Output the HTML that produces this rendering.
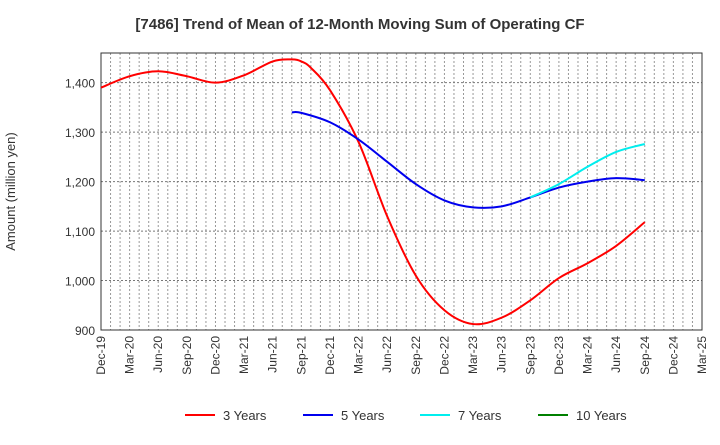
<!DOCTYPE html>
<html><head><meta charset="utf-8"><style>
body{margin:0;background:#fff;font-family:"Liberation Sans",sans-serif}
</style></head><body>
<svg id="c" width="720" height="440" xmlns="http://www.w3.org/2000/svg">
<text x="360" y="29" text-anchor="middle" font-size="15" font-weight="bold" fill="#333">[7486]  Trend of Mean of 12-Month Moving Sum of Operating CF</text>
<g id="grid"></g><g id="axes"></g><g id="series"></g><g id="legend"></g>
</svg>
<script>
const xLabels=["Dec-19","Mar-20","Jun-20","Sep-20","Dec-20","Mar-21","Jun-21","Sep-21","Dec-21","Mar-22","Jun-22","Sep-22","Dec-22","Mar-23","Jun-23","Sep-23","Dec-23","Mar-24","Jun-24","Sep-24","Dec-24","Mar-25"];
const yTicks=[900,1000,1100,1200,1300,1400];
const m3=[0,3,6,9,12,15,18,20,21,22,24,27,30,33,36,39,42,45,48,51,54,57];
const v3=[1390,1413,1423,1413,1400,1415,1443,1447,1443,1430,1385,1280,1130,1010,940,912,925,960,1005,1035,1070,1118];
const m5=[20,21,24,27,30,33,36,39,42,45,48,51,54,57];
const v5=[1340,1339,1320,1285,1240,1195,1162,1148,1150,1168,1188,1200,1207,1203];
const m7=[45,48,51,54,57];
const v7=[1168,1195,1230,1260,1276];
const L=101,R=702,T=53,B=330;
const NS="http://www.w3.org/2000/svg";
const xs=m=>L+(R-L)*m/63;
const ys=v=>B-(v-900)/(1460-900)*(B-T);
function mk(t,a,p){const e=document.createElementNS(NS,t);for(const k in a)e.setAttribute(k,a[k]);document.getElementById(p).appendChild(e);return e;}
for(let m=1;m<63;m++){const e=mk('line',{x1:xs(m),x2:xs(m),y1:T,y2:B,stroke:'#999','stroke-dasharray':'2,2','stroke-width':1},'grid');

}
yTicks.forEach(v=>{const g=mk('line',{x1:L,x2:R,y1:ys(v),y2:ys(v),stroke:'#777','stroke-dasharray':'2,2'},'grid');


const t=mk('text',{x:L-6,y:ys(v)+5,'text-anchor':'end','font-size':12,fill:'#333'},'axes');t.textContent=v.toLocaleString('en-US');

});
xLabels.forEach((s,i)=>{const x=xs(i*3);const t=mk('text',{transform:`translate(${x+4},${B+6}) rotate(-90)`,'text-anchor':'end','font-size':12,fill:'#333'},'axes');t.textContent=s;

});
const fr=mk('rect',{x:L,y:T,width:R-L,height:B-T,fill:'none',stroke:'#333'},'axes');


const yt=mk('text',{transform:`translate(15,${(T+B)/2}) rotate(-90)`,'text-anchor':'middle','font-size':13,fill:'#333'},'axes');yt.textContent='Amount (million yen)';


function path(ms,vs){const p=ms.map((m,i)=>[xs(m),ys(vs[i])]);let d=`M${p[0][0]},${p[0][1]}`;
for(let i=0;i<p.length-1;i++){const p0=p[i-1]||p[i],p1=p[i],p2=p[i+1],p3=p[i+2]||p2;
d+=`C${p1[0]+(p2[0]-p0[0])/6},${p1[1]+(p2[1]-p0[1])/6} ${p2[0]-(p3[0]-p1[0])/6},${p2[1]-(p3[1]-p1[1])/6} ${p2[0]},${p2[1]}`;}return d;}
[[m3,v3,'#ff0000','series-3-years'],[m5,v5,'#0000ee','series-5-years'],[m7,v7,'#00eeee','series-7-years']].forEach(s=>{
const e=mk('path',{d:path(s[0],s[1]),fill:'none',stroke:s[2],'stroke-width':2},'series');

});
[['3 Years','#ff0000',185],['5 Years','#0000ee',303],['7 Years','#00eeee',420],['10 Years','#008000',538]].forEach(l=>{
const ln=mk('line',{x1:l[2],x2:l[2]+30,y1:415,y2:415,stroke:l[1],'stroke-width':2},'legend');


const t=mk('text',{x:l[2]+38,y:420,'font-size':13,fill:'#333'},'legend');t.textContent=l[0];

});
</script>
</body></html>
